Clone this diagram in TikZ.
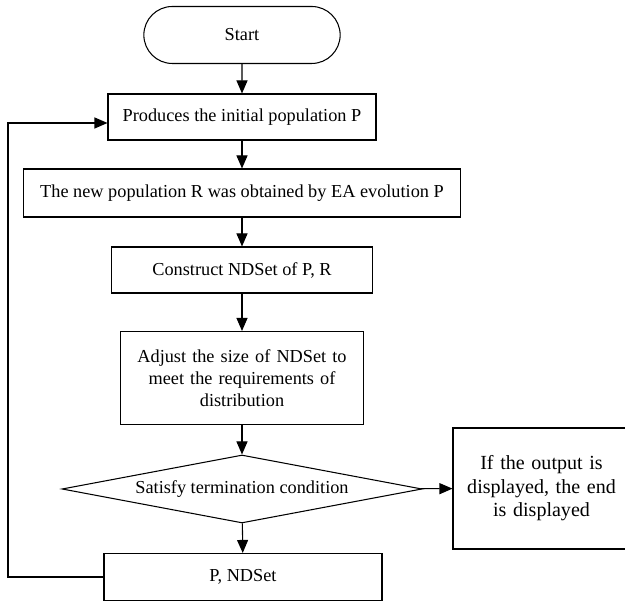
\documentclass[tikz,border=0pt]{standalone}
\usepackage{fontspec}
\setmainfont{Liberation Serif}
\usetikzlibrary{shapes.geometric,shapes.misc,arrows.meta}

\begin{document}
\begin{tikzpicture}[
  line width=0.6pt,
  font=\fontsize{10.4pt}{12.4pt}\selectfont,
  >={Triangle[length=2.6mm,width=2.2mm]},
  proc/.style={draw, rectangle, align=center, inner sep=2pt},
  term/.style={draw, rounded rectangle, minimum width=4.16cm, minimum height=1.14cm},
  cond/.style={draw, diamond, aspect=5.3, inner sep=0pt, minimum width=7.2cm, minimum height=1.36cm}
]
\useasboundingbox (0,0) rectangle (12.5,12.02);

% Draw the steps
\node[term] (start) at (4.84,11.32) {Start};
\node[proc, minimum width=5.36cm, minimum height=0.92cm] (init) at (4.84,9.68) {Produces the initial population P};
\node[proc, minimum width=8.74cm, minimum height=0.96cm] (evol) at (4.84,8.16) {The new population R was obtained by EA evolution P};
\node[proc, minimum width=5.22cm, minimum height=0.92cm] (nds) at (4.84,6.62) {Construct NDSet of P, R};
\node[proc, minimum width=4.86cm, minimum height=1.86cm, text width=4.6cm] (adj) at (4.84,4.46) {Adjust the size of NDSet to\\ meet the requirements of\\ distribution};
\node[cond] (test) at (4.84,2.24) {Satisfy termination condition};
\node[proc, minimum width=3.54cm, minimum height=2.42cm, text width=3.3cm, font=\fontsize{11.4pt}{13.4pt}\selectfont] (out) at (10.83,2.25) {If the output is\\ displayed, the end\\ is displayed};
\node[proc, minimum width=5.56cm, minimum height=0.94cm] (keep) at (4.86,0.48) {P, NDSet};

% Draw the flow
\draw[->] (start) -- (init);
\draw[->] (init) -- (evol);
\draw[->] (evol) -- (nds);
\draw[->] (nds) -- (adj);
\draw[->] (adj) -- (test);
\draw[->] (test) -- (out);
\draw[->] (test) -- (keep);

% Loop back
\draw[->] (keep.west) -- (0.16,0.48) |- ([yshift=-0.12cm]init.west);
\end{tikzpicture}
\end{document}
